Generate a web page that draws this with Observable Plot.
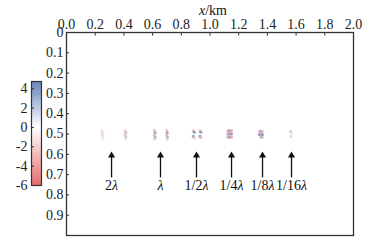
<!DOCTYPE html>
<html>
<head>
<meta charset="utf-8">
<script src="https://cdn.jsdelivr.net/npm/d3@7"></script>
<script src="https://cdn.jsdelivr.net/npm/@observablehq/plot@0.6"></script>
<style>
  body { margin: 0; background: #fff; }
  #wrap { position: relative; width: 368px; height: 246px; overflow: hidden; }
  #wrap svg { position: absolute; }
</style>
</head>
<body>
<div id="wrap"></div>
<script>
// ---- data ----
const xTicks = [0, 0.2, 0.4, 0.6, 0.8, 1.0, 1.2, 1.4, 1.6, 1.8, 2.0];
const yTicks = [0, 0.1, 0.2, 0.3, 0.4, 0.5, 0.6, 0.7, 0.8, 0.9];
const cbTicks = [4, 2, 0, -2, -4, -6];
const cbDomain = [-6, 0, 4.75];
const cbColors = ["#de4d4d", "#ffffff", "#4466aa"];

// scattered wavefield samples near the sources (x km, depth km, amplitude)
const scatX = [
  0.245, 0.252, 0.247, 0.253, 0.248,
  0.408, 0.413, 0.408, 0.414, 0.410,
  0.612, 0.617, 0.612, 0.617, 0.613,
  0.698, 0.702, 0.698, 0.703, 0.700,
  0.884, 0.890, 0.884, 0.890,
  0.930, 0.936, 0.930, 0.936,
  1.125, 1.133, 1.141, 1.150, 1.125, 1.133, 1.141, 1.150, 1.125, 1.133, 1.141, 1.150,
  1.345, 1.355, 1.365, 1.345, 1.355, 1.365, 1.350, 1.362,
  1.562, 1.568, 1.565
];
const scatY = [
  0.483, 0.493, 0.503, 0.513, 0.523,
  0.483, 0.493, 0.503, 0.513, 0.523,
  0.482, 0.493, 0.505, 0.516, 0.525,
  0.482, 0.494, 0.506, 0.517, 0.525,
  0.484, 0.491, 0.511, 0.518,
  0.484, 0.491, 0.511, 0.518,
  0.485, 0.485, 0.485, 0.485, 0.500, 0.500, 0.500, 0.500, 0.515, 0.515, 0.515, 0.515,
  0.487, 0.487, 0.487, 0.503, 0.503, 0.503, 0.516, 0.516,
  0.488, 0.500, 0.512
];
const scatV = [
  -1.2, 1.0, -1.6, 0.9, -1.0,
  -1.6, 2.2, -2.2, 1.8, -1.6,
  -2.5, 3.0, -2.8, 2.6, -2.0,
  -2.2, 3.0, -2.6, 2.6, -2.0,
  -2.5, 3.2, 3.2, -2.5,
  -2.5, 3.2, 3.2, -2.5,
  -3.0, 2.5, 2.5, -3.0, 3.0, -3.5, -3.5, 3.0, -3.0, 2.5, 2.5, -3.0,
  -2.5, 3.0, -2.5, 3.5, -3.0, 3.5, -2.0, 2.5,
  1.5, -1.0, 1.2
];
const scat = scatX.map((x, i) => ({x, y: scatY[i], v: scatV[i]}));

const arrowLabels = ["2λ", "λ", "1/2λ", "1/4λ", "1/8λ", "1/16λ"];
const arrowX = [0.314, 0.655, 0.906, 1.150, 1.366, 1.568];
const arrowTail = 0.714;
const arrowTip = 0.606;
const labelY = 0.754;
const arrows = arrowX.map((x, i) => ({x, label: arrowLabels[i]}));

const FONT = "Times New Roman, Liberation Serif, serif";
const colorScale = {type: "linear", domain: cbDomain, range: cbColors, interpolate: "rgb"};
const fmtY = d => d === 0 ? "0" : d.toFixed(1);

// ---- main chart ----
const main = Plot.plot({
  width: 368, height: 246,
  marginLeft: 66, marginRight: 15, marginTop: 32, marginBottom: 11,
  style: {fontFamily: FONT, fontSize: "14px", color: "#222", background: "transparent"},
  x: {domain: [0, 2], ticks: xTicks},
  y: {domain: [0, 1], reverse: true, ticks: yTicks},
  color: colorScale,
  marks: [
    Plot.axisX(xTicks, {anchor: "top", tickSize: 0, tickPadding: 4, tickFormat: d => d.toFixed(1), fontSize: 14, fontFamily: FONT, label: null}),
    Plot.axisY(yTicks, {anchor: "left", tickSize: 0, tickPadding: 3, tickFormat: fmtY, fontSize: 14, fontFamily: FONT, label: null}),
    Plot.ruleX(xTicks.slice(1, -1), {y1: 0, y2: 0.018, stroke: "#333", strokeWidth: 1}),
    Plot.ruleY(yTicks.slice(1), {x1: 0, x2: 0.022, stroke: "#333", strokeWidth: 1}),
    Plot.dot(scat, {x: "x", y: "y", fill: "v", r: 1.6, fillOpacity: 0.85}),
    Plot.link(arrows, {x1: "x", x2: "x", y1: arrowTail, y2: arrowTip, stroke: "#111", strokeWidth: 1.3}),
    Plot.dot(arrows, {x: "x", y: arrowTip, symbol: "triangle", r: 2.6, fill: "#111", stroke: "none"}),
    Plot.text(arrows, {x: "x", y: labelY, text: "label", fontSize: 14, fontFamily: FONT, fill: "#111", lineAnchor: "middle"}),
    Plot.text(["x/km"], {frameAnchor: "top", dx: 3, dy: -22, lineAnchor: "middle", text: d => d, fontSize: 14, fontFamily: FONT, fill: "#111"}),
    Plot.frame({stroke: "#333", strokeWidth: 1.3})
  ]
});
main.style.left = "0px";
main.style.top = "0px";

// ---- colorbar ----
const cbSteps = d3.range(-6, 4.75, 0.05);
const cb = Plot.plot({
  width: 44, height: 126,
  marginLeft: 31, marginRight: 3, marginTop: 8, marginBottom: 14,
  style: {fontFamily: FONT, fontSize: "14px", color: "#222", background: "transparent"},
  x: {domain: [0, 1], axis: null},
  y: {domain: [-6, 4.75], ticks: cbTicks},
  color: colorScale,
  marks: [
    Plot.rect(cbSteps, {x1: 0, x2: 1, y1: d => d, y2: d => Math.min(d + 0.06, 4.75), fill: d => d + 0.025}),
    Plot.axisY(cbTicks, {anchor: "left", tickSize: 0, tickPadding: 4, tickFormat: d => String(d), fontSize: 14, fontFamily: FONT, label: null}),
    Plot.ruleY(cbTicks.slice(0, -1), {x1: 0, x2: 0.3, stroke: "#333", strokeWidth: 1}),
    Plot.frame({stroke: "#333", strokeWidth: 1.2})
  ]
});
cb.style.left = "0px";
cb.style.top = "73px";

// italicise λ and x
function italicize(svg) {
  svg.querySelectorAll("text").forEach(t => {
    if (t.children.length) return;
    const s = t.textContent;
    if (s.includes("λ") || s === "x/km") {
      const ital = s.includes("λ") ? "λ" : "x";
      t.textContent = "";
      const parts = s.split(ital);
      parts.forEach((p, i) => {
        if (p) {
          const sp = document.createElementNS("http://www.w3.org/2000/svg", "tspan");
          sp.textContent = p; t.appendChild(sp);
        }
        if (i < parts.length - 1) {
          const it = document.createElementNS("http://www.w3.org/2000/svg", "tspan");
          it.setAttribute("font-style", "italic");
          it.textContent = ital; t.appendChild(it);
        }
      });
    }
  });
}
italicize(main);

const wrap = document.getElementById("wrap");
wrap.appendChild(main);
wrap.appendChild(cb);
</script>
</body>
</html>
